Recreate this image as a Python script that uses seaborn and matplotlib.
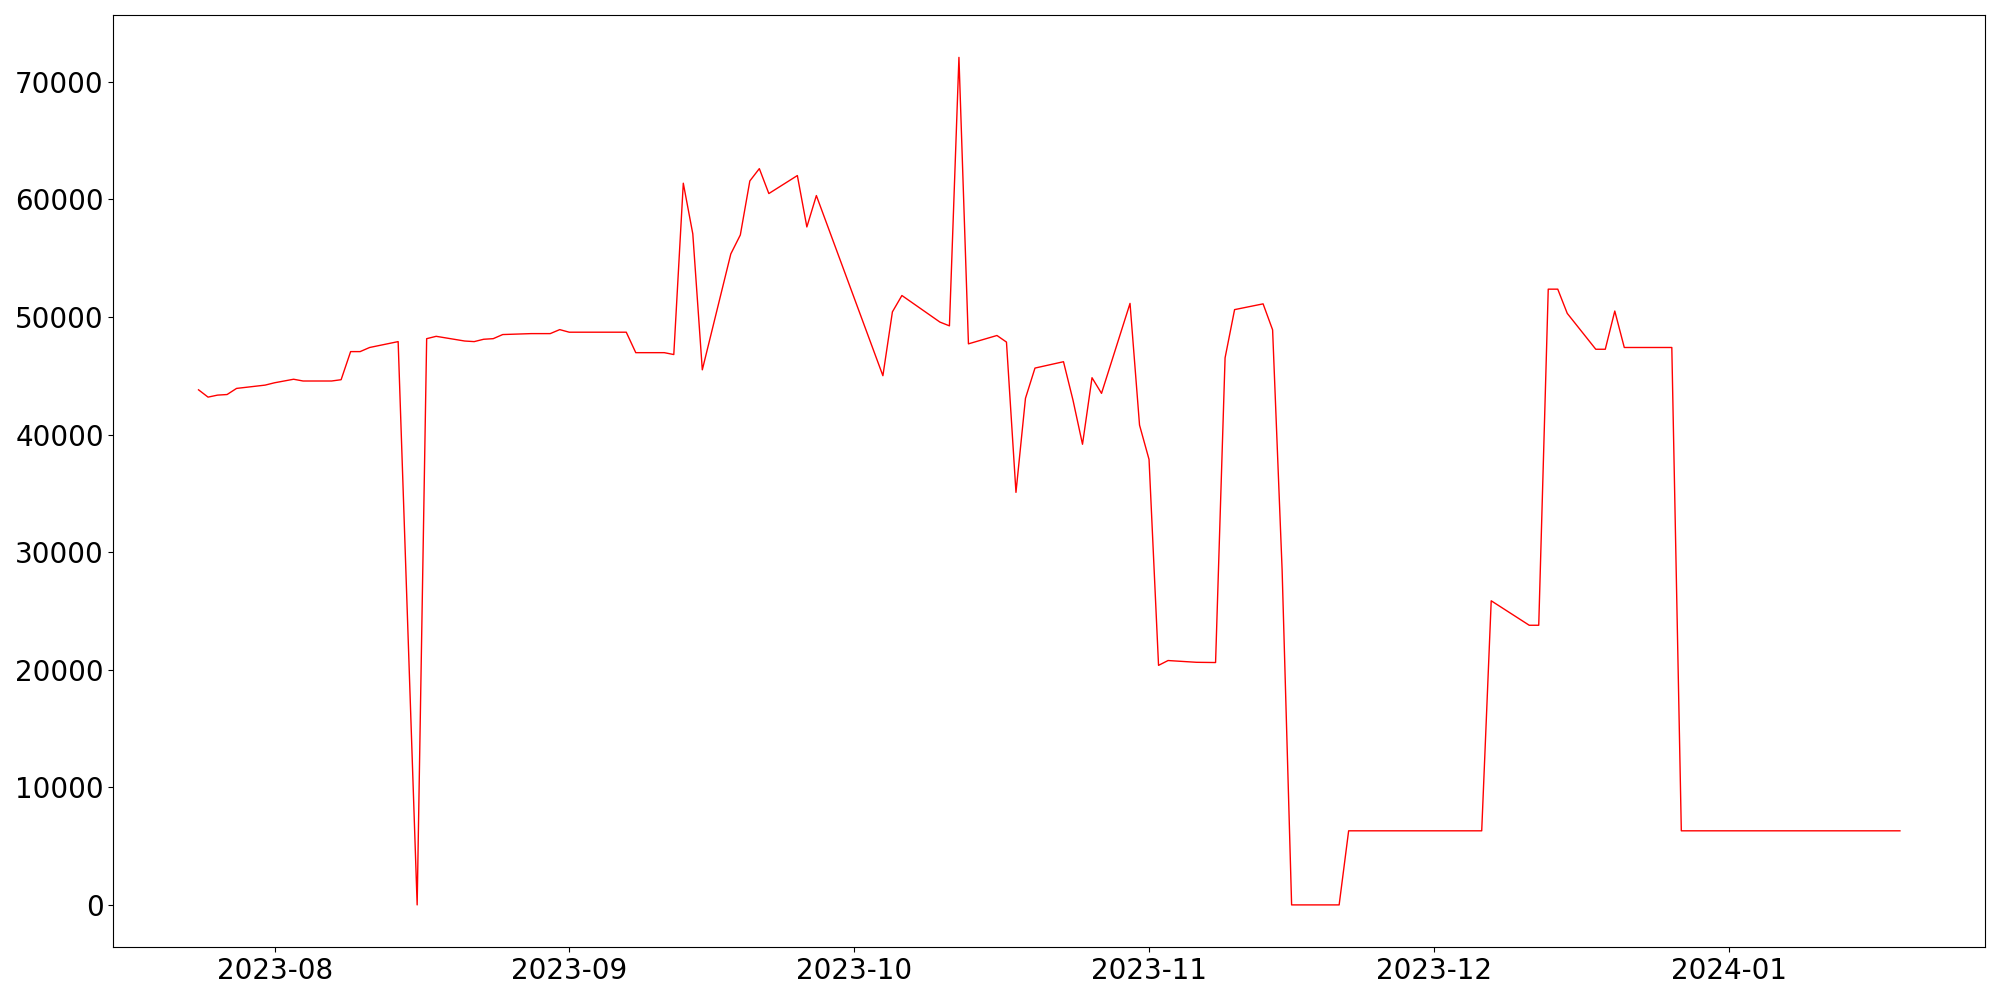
import matplotlib
matplotlib.use("Agg")
import matplotlib.pyplot as plt
import pandas as pd
import seaborn as sns

# ── Data ─────────────────────────────────────────────────────────────

dates = [
    "2023-07-24", "2023-07-25", "2023-07-26", "2023-07-27", "2023-07-28",
    "2023-07-31", "2023-08-01", "2023-08-03", "2023-08-04", "2023-08-07",
    "2023-08-08", "2023-08-09", "2023-08-10", "2023-08-11", "2023-08-14",
    "2023-08-16", "2023-08-17", "2023-08-18", "2023-08-21", "2023-08-22",
    "2023-08-23", "2023-08-24", "2023-08-25", "2023-08-28", "2023-08-29",
    "2023-08-30", "2023-08-31", "2023-09-01", "2023-09-04", "2023-09-05",
    "2023-09-06", "2023-09-07", "2023-09-08", "2023-09-11", "2023-09-12",
    "2023-09-13", "2023-09-14", "2023-09-15", "2023-09-18", "2023-09-19",
    "2023-09-20", "2023-09-21", "2023-09-22", "2023-09-25", "2023-09-26",
    "2023-09-27", "2023-10-04", "2023-10-05", "2023-10-06", "2023-10-10",
    "2023-10-11", "2023-10-12", "2023-10-13", "2023-10-16", "2023-10-17",
    "2023-10-18", "2023-10-19", "2023-10-20", "2023-10-23", "2023-10-24",
    "2023-10-25", "2023-10-26", "2023-10-27", "2023-10-30", "2023-10-31",
    "2023-11-01", "2023-11-02", "2023-11-03", "2023-11-06", "2023-11-08",
    "2023-11-09", "2023-11-10", "2023-11-13", "2023-11-14", "2023-11-15",
    "2023-11-16", "2023-11-17", "2023-11-20", "2023-11-21", "2023-11-22",
    "2023-11-24", "2023-11-28", "2023-12-01", "2023-12-06", "2023-12-07",
    "2023-12-11", "2023-12-12", "2023-12-13", "2023-12-14", "2023-12-15",
    "2023-12-18", "2023-12-19", "2023-12-20", "2023-12-21", "2023-12-22",
    "2023-12-26", "2023-12-27", "2024-01-02", "2024-01-10", "2024-01-19",
]

values = [
    43800, 43180, 43350, 43400, 43920,
    44200, 44400, 44700, 44550, 44550,
    44660, 47050, 47050, 47400, 47900,
    0, 48150, 48350, 47950, 47900,
    48100, 48150, 48500, 48580, 48580,
    48580, 48920, 48700, 48700, 48700,
    48700, 48700, 46960, 46960, 46800,
    61370, 57060, 45500, 55360, 56970,
    61560, 62610, 60490, 62020, 57650,
    60320, 45000, 50430, 51820, 49560,
    49240, 72070, 47710, 48420, 47860,
    35080, 43080, 45650, 46190, 42920,
    39170, 44830, 43500, 51150, 40800,
    37880, 20370, 20780, 20630, 20610,
    46520, 50620, 51110, 48900, 28500,
    0, 0, 0, 0, 6300,
    6300, 6300, 6300, 6300, 25860,
    23780, 23780, 52360, 52360, 50300,
    47250, 47250, 50500, 47400, 47400,
    47400, 6300, 6300, 6300, 6300,
]

# ── Plot ─────────────────────────────────────────────────────────────

df = pd.DataFrame({"date": pd.to_datetime(dates), "value": values})

fig, ax = plt.subplots(figsize=(20, 10), dpi=100)
sns.lineplot(data=df, x="date", y="value", color="red", linewidth=1.0, ax=ax)
ax.set_xlabel("")
ax.set_ylabel("")
ax.tick_params(axis="both", labelsize=20)

plt.tight_layout()
plt.savefig("out.png", dpi=100)
plt.close()
